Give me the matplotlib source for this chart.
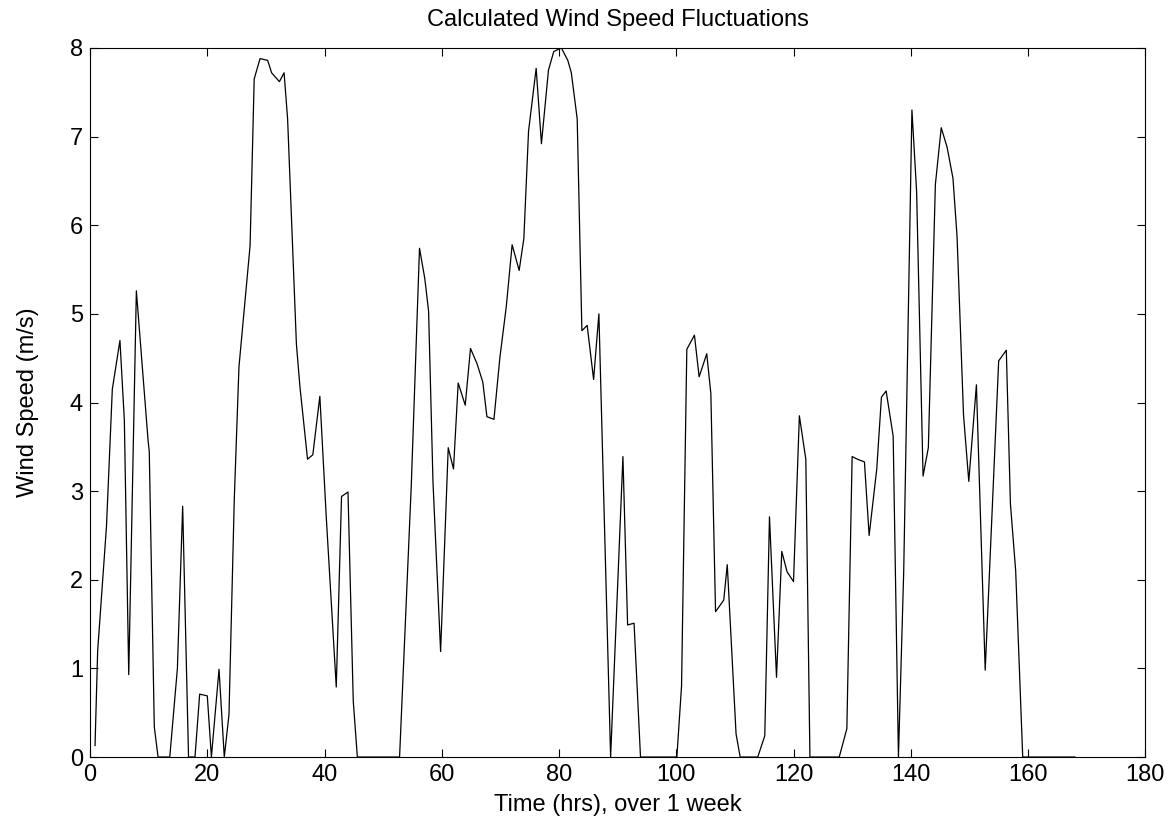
import matplotlib.pyplot as plt

# time (hrs) and wind speed (m/s)
hours = [0.85, 1.3, 2.8, 3.8, 5.1, 5.85, 6.6, 7.9, 9.9, 10.1, 10.96, 11.6,
         13.6, 14.9, 15.8, 16.8, 17.9, 18.7, 20.0, 20.7, 22.0, 22.9, 23.7,
         24.6, 25.4, 26.1, 27.3, 28.0, 29.0, 30.3, 30.97, 32.3, 33.1, 33.7,
         35.2, 35.8, 37.1, 38.0, 39.2, 40.3, 42.0, 42.9, 44.0, 44.9, 45.6,
         52.8, 54.8, 56.2, 57.1, 57.75, 58.5, 59.8, 61.1, 62.0, 62.8, 64.0,
         64.9, 66.0, 67.0, 67.7, 68.9, 69.9, 71.0, 72.0, 73.2, 74.0, 74.8,
         76.1, 77.0, 78.2, 79.1, 80.4, 81.5, 82.1, 83.1, 83.9, 84.8, 85.9,
         86.8, 88.8, 90.9, 91.7, 92.8, 93.9, 100.1, 100.9, 101.8, 103.1,
         103.9, 105.2, 105.9, 106.7, 108.1, 108.7, 110.2, 110.9, 113.9,
         115.1, 115.9, 117.1, 118.0, 118.9, 120.0, 121.0, 122.1, 122.8,
         127.8, 129.1, 130.0, 130.9, 132.1, 132.9, 134.2, 135.0, 135.8,
         137.0, 137.9, 138.8, 140.2, 141.0, 142.1, 143.0, 144.2, 145.2,
         146.2, 147.2, 147.9, 149.0, 149.9, 151.2, 152.7, 153.7, 155.0,
         156.3, 157.0, 157.9, 159.1, 168.0]
speed = [0.13, 1.2, 2.6, 4.15, 4.7, 3.8, 0.93, 5.26, 3.57, 3.45, 0.34, 0.0,
         0.0, 1.0, 2.83, 0.0, 0.0, 0.71, 0.69, 0.0, 0.99, 0.0, 0.48,
         2.9, 4.4, 4.9, 5.77, 7.65, 7.88, 7.86, 7.72, 7.62, 7.72, 7.2,
         4.66, 4.18, 3.36, 3.41, 4.07, 2.7, 0.79, 2.94, 2.99, 0.63, 0.0,
         0.0, 3.07, 5.74, 5.4, 5.03, 3.1, 1.19, 3.49, 3.25, 4.22, 3.97,
         4.61, 4.44, 4.23, 3.84, 3.81, 4.5, 5.08, 5.78, 5.49, 5.85, 7.06,
         7.77, 6.92, 7.75, 7.96, 8.0, 7.86, 7.72, 7.2, 4.81, 4.87, 4.26,
         5.0, 0.0, 3.39, 1.49, 1.51, 0.0, 0.0, 0.8, 4.6, 4.76,
         4.29, 4.55, 4.1, 1.64, 1.77, 2.17, 0.26, 0.0, 0.0,
         0.24, 2.71, 0.9, 2.32, 2.09, 1.98, 3.85, 3.36, 0.0,
         0.0, 0.32, 3.39, 3.36, 3.33, 2.5, 3.25, 4.06, 4.13,
         3.62, 0.0, 2.1, 7.3, 6.38, 3.17, 3.49, 6.46, 7.1,
         6.88, 6.53, 5.87, 3.86, 3.11, 4.2, 0.98, 2.5, 4.47,
         4.59, 2.86, 2.1, 0.0, 0.0]

plt.rcParams['font.family'] = ['Liberation Sans', 'DejaVu Sans']

fig = plt.figure(figsize=(11.71, 8.27), dpi=100)
ax = fig.add_axes([0.0769, 0.0846, 0.9011, 0.8574])

ax.plot(hours, speed, color='black', linewidth=0.9)

ax.set_xlim(0, 180)
ax.set_ylim(0, 8)
ax.set_xticks(range(0, 181, 20))
ax.set_yticks(range(0, 9))
ax.tick_params(direction='in', top=True, right=True, labelsize=17, length=6, width=0.8, pad=5)
for s in ax.spines.values():
    s.set_linewidth(0.8)

ax.set_title('Calculated Wind Speed Fluctuations', fontsize=17, pad=16)
ax.set_xlabel('Time (hrs), over 1 week', fontsize=17, labelpad=6)
ax.set_ylabel('Wind Speed (m/s)', fontsize=17, labelpad=22)

fig.savefig('out.png', dpi=100)
